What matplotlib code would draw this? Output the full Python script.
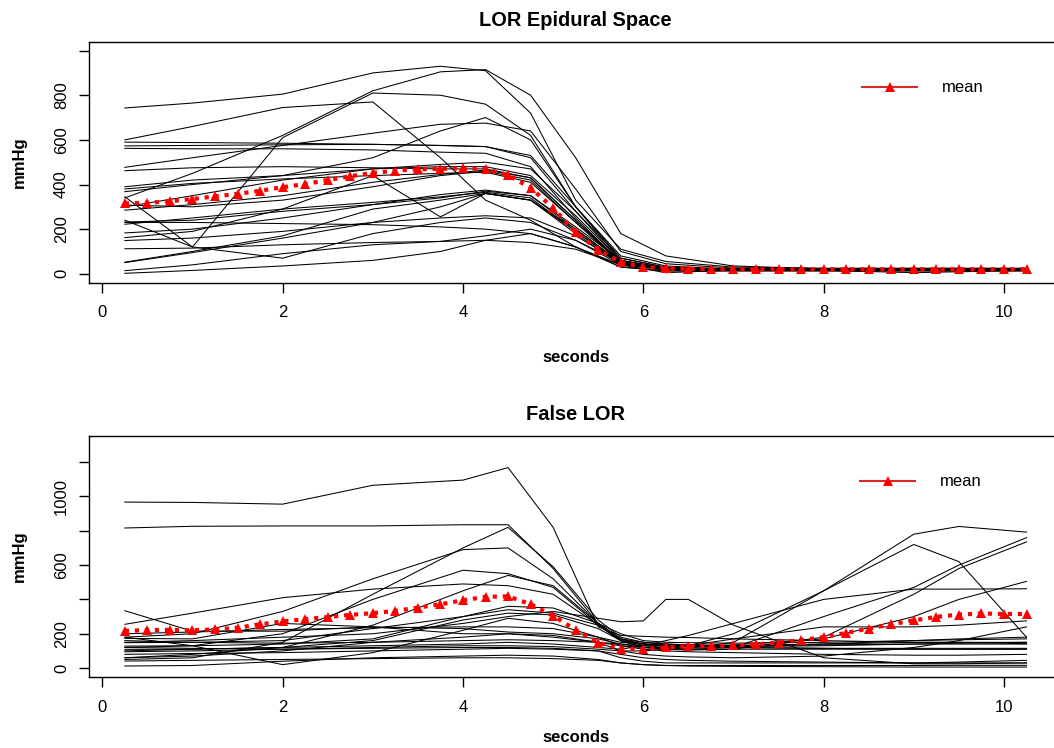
import numpy as np
import matplotlib.pyplot as plt
from matplotlib.lines import Line2D

plt.rcParams['font.family'] = ['Liberation Sans', 'DejaVu Sans']

# ---- LOR epidural space: individual traces (mmHg) ----
t_lor = [0.25, 1, 2, 3, 3.75, 4.25, 4.75, 5.25, 5.75, 6.25, 7, 8, 9, 10.25]
lor_curves = [
    [743, 765, 805, 900, 930, 910, 720, 330, 110, 55, 30, 25, 25, 25],
    [340, 450, 620, 820, 905, 915, 800, 520, 180, 80, 35, 22, 22, 22],
    [600, 660, 745, 770, 520, 330, 240, 120, 40, 22, 20, 20, 20, 20],
    [345, 120, 610, 810, 800, 760, 620, 300, 80, 35, 20, 20, 20, 20],
    [590, 588, 585, 580, 575, 570, 530, 300, 60, 25, 20, 20, 20, 20],
    [573, 575, 578, 580, 575, 570, 520, 280, 55, 22, 20, 20, 20, 20],
    [562, 560, 560, 555, 545, 540, 480, 250, 50, 20, 18, 18, 18, 18],
    [477, 520, 575, 630, 670, 675, 640, 380, 100, 45, 25, 20, 20, 20],
    [462, 475, 480, 475, 470, 470, 430, 240, 50, 20, 18, 18, 18, 18],
    [390, 420, 440, 470, 490, 500, 470, 280, 70, 28, 20, 20, 20, 20],
    [380, 405, 425, 440, 450, 455, 410, 230, 50, 22, 18, 18, 18, 18],
    [368, 400, 440, 520, 640, 700, 600, 300, 70, 30, 20, 20, 20, 20],
    [308, 300, 330, 390, 440, 460, 420, 230, 50, 22, 18, 18, 18, 18],
    [285, 310, 350, 410, 445, 465, 430, 240, 55, 22, 18, 18, 18, 18],
    [232, 240, 280, 310, 340, 370, 350, 200, 50, 20, 18, 18, 18, 18],
    [222, 250, 290, 320, 345, 365, 340, 190, 45, 20, 18, 18, 18, 18],
    [183, 200, 250, 310, 355, 375, 350, 210, 60, 25, 18, 18, 18, 18],
    [162, 190, 290, 440, 255, 360, 330, 200, 50, 20, 18, 18, 18, 18],
    [149, 160, 190, 230, 250, 260, 250, 170, 50, 20, 18, 18, 18, 18],
    [112, 115, 130, 140, 145, 150, 140, 110, 40, 20, 18, 18, 18, 18],
    [52, 100, 170, 290, 330, 360, 330, 180, 40, 18, 16, 16, 16, 16],
    [50, 95, 160, 230, 300, 360, 330, 190, 45, 18, 16, 16, 16, 16],
    [14, 40, 90, 130, 145, 170, 200, 150, 50, 20, 16, 16, 16, 16],
    [2, 15, 35, 60, 100, 150, 180, 120, 30, 15, 15, 15, 5, 15],
    [240, 120, 70, 180, 230, 250, 230, 150, 40, 5, 16, 16, 16, 16],
    [230, 230, 225, 220, 210, 200, 180, 120, 30, 12, 12, 12, 12, 12],
    [300, 350, 420, 470, 480, 480, 440, 260, 60, 25, 20, 20, 20, 20],
]

# ---- False LOR: individual traces (mmHg) ----
t_false = [0.25, 1, 2, 3, 4, 4.5, 5, 5.5, 5.75, 6, 6.25, 6.5, 7, 8, 9, 9.5, 10.25]
false_curves = [
    [967, 965, 955, 1065, 1095, 1168, 820, 240, 190, 185, 180, 178, 170, 160, 150, 150, 150],
    [816, 826, 828, 828, 835, 835, 580, 260, 200, 160, 150, 148, 145, 150, 160, 165, 170],
    [50, 60, 150, 430, 700, 820, 590, 280, 180, 150, 140, 135, 130, 140, 160, 170, 180],
    [180, 200, 330, 520, 690, 700, 520, 260, 170, 150, 140, 135, 130, 135, 140, 145, 150],
    [255, 320, 410, 460, 490, 480, 430, 250, 160, 140, 130, 125, 120, 115, 110, 110, 110],
    [334, 215, 215, 240, 200, 200, 180, 150, 130, 120, 115, 110, 110, 110, 110, 110, 110],
    [120, 130, 200, 400, 570, 550, 470, 250, 160, 140, 130, 125, 125, 130, 140, 140, 140],
    [60, 80, 120, 250, 450, 540, 480, 260, 170, 140, 130, 125, 120, 115, 115, 115, 115],
    [200, 210, 225, 235, 240, 240, 230, 180, 150, 140, 135, 130, 135, 170, 300, 400, 505],
    [173, 170, 260, 240, 230, 210, 200, 170, 140, 120, 115, 110, 120, 300, 470, 600, 760],
    [148, 150, 160, 230, 300, 340, 320, 250, 160, 120, 110, 105, 110, 180, 430, 580, 735],
    [128, 130, 140, 170, 300, 360, 350, 260, 170, 130, 120, 115, 150, 450, 720, 620, 180],
    [109, 110, 120, 160, 280, 320, 310, 230, 160, 120, 120, 130, 200, 450, 780, 825, 792],
    [80, 85, 90, 100, 110, 115, 110, 100, 80, 60, 50, 45, 40, 35, 30, 35, 45],
    [41, 45, 50, 55, 60, 60, 55, 45, 30, 20, 15, 15, 15, 15, 15, 16, 16],
    [12, 15, 40, 60, 70, 75, 70, 50, 30, 20, 15, 12, 10, 8, 6, 6, 6],
    [180, 130, 20, 90, 220, 290, 260, 180, 130, 110, 100, 95, 90, 80, 75, 75, 80],
    [150, 160, 180, 200, 260, 300, 330, 290, 270, 275, 400, 400, 250, 60, 25, 25, 30],
    [100, 110, 120, 130, 140, 150, 140, 120, 110, 130, 160, 190, 260, 400, 460, 460, 462],
    [95, 100, 110, 120, 130, 130, 125, 110, 100, 100, 110, 130, 170, 240, 240, 250, 275],
    [60, 70, 100, 150, 180, 200, 190, 150, 100, 80, 70, 65, 60, 70, 120, 160, 240],
    [160, 150, 145, 150, 160, 165, 160, 150, 140, 130, 130, 130, 130, 140, 150, 150, 142],
    [120, 115, 110, 115, 120, 120, 115, 100, 60, 40, 30, 30, 30, 30, 30, 30, 30],
]

# ---- means, every 0.25 s ----
t_mean = np.arange(1, 42) * 0.25
lor_mean = [315, 318, 325, 335, 347, 358, 372, 388, 402, 420, 437, 452, 462, 468,
            470, 472, 470, 442, 385, 295, 185, 108, 52, 30, 24, 22, 21, 21,
            20, 20, 20, 20, 20, 20, 20, 20, 20, 20, 20, 20, 20]
false_mean = [216, 222, 222, 220, 225, 235, 255, 272, 285, 297, 310, 320, 333, 352,
              372, 395, 415, 418, 372, 305, 222, 148, 113, 110, 120, 128, 128, 132,
              138, 148, 163, 180, 205, 230, 255, 278, 298, 312, 318, 315, 315]

W, H = 1054, 748
fig = plt.figure(figsize=(W / 100, H / 100), dpi=100)


def panel(rect, t, curves, mean, ylim, yticks, ylabels, title, title_y, xlab_y, leg_xy):
    ax = fig.add_axes(rect)
    for c in curves:
        ax.plot(t, c, color='black', lw=0.75)
    ax.plot(t_mean, mean, color='red', lw=3, ls=(0, (1, 1.4)), marker='^',
            markersize=7, markeredgewidth=0)
    ax.set_xlim(-0.15, 10.65)
    ax.set_ylim(*ylim)
    ax.set_xticks([0, 2, 4, 6, 8, 10])
    ax.set_yticks(yticks)
    ax.set_yticklabels(ylabels)
    ax.tick_params(direction='out', length=7.2, width=1, labelsize=12)
    ax.tick_params(axis='x', pad=9)
    ax.tick_params(axis='y', pad=7)
    for lbl in ax.get_yticklabels():
        lbl.set_rotation(90)
        lbl.set_va('center')
    for s in ax.spines.values():
        s.set_linewidth(1)
    fig.text(575.7 / W, 1 - title_y / H, title, ha='center', va='center',
             fontsize=14.4, fontweight='bold')
    fig.text(575.7 / W, 1 - xlab_y / H, 'seconds', ha='center', va='center',
             fontsize=12, fontweight='bold')
    fig.text(19 / W, rect[1] + rect[3] / 2, 'mmHg', ha='center', va='center',
             rotation=90, fontsize=12, fontweight='bold')
    handle = Line2D([], [], color='#d42a2a', lw=1.5, marker='^', markersize=7,
                    markeredgewidth=0, markerfacecolor='red')
    ax.legend([handle], ['mean'], loc='center left',
              bbox_to_anchor=(leg_xy[0] / W, 1 - leg_xy[1] / H),
              bbox_transform=fig.transFigure, frameon=False, fontsize=12,
              handlelength=3.3, handletextpad=1.5, borderpad=0, borderaxespad=0)
    return ax


left = 88.8 / W
width = (1062.6 - 88.8) / W
height = 241 / H

panel([left, 1 - 282.7 / H, width, height], t_lor, lor_curves, lor_mean,
      (-40, 1040), [0, 200, 400, 600, 800, 1000],
      ['0', '200', '400', '600', '800', ''],
      'LOR Epidural Space', 20, 357, (862, 88))

panel([left, 1 - 677 / H, width, height], t_false, false_curves, false_mean,
      (-52, 1352), [0, 200, 400, 600, 800, 1000, 1200],
      ['0', '200', '', '600', '', '1000', ''],
      'False LOR', 415, 738, (860, 482))

fig.savefig('out.png', dpi=100)
